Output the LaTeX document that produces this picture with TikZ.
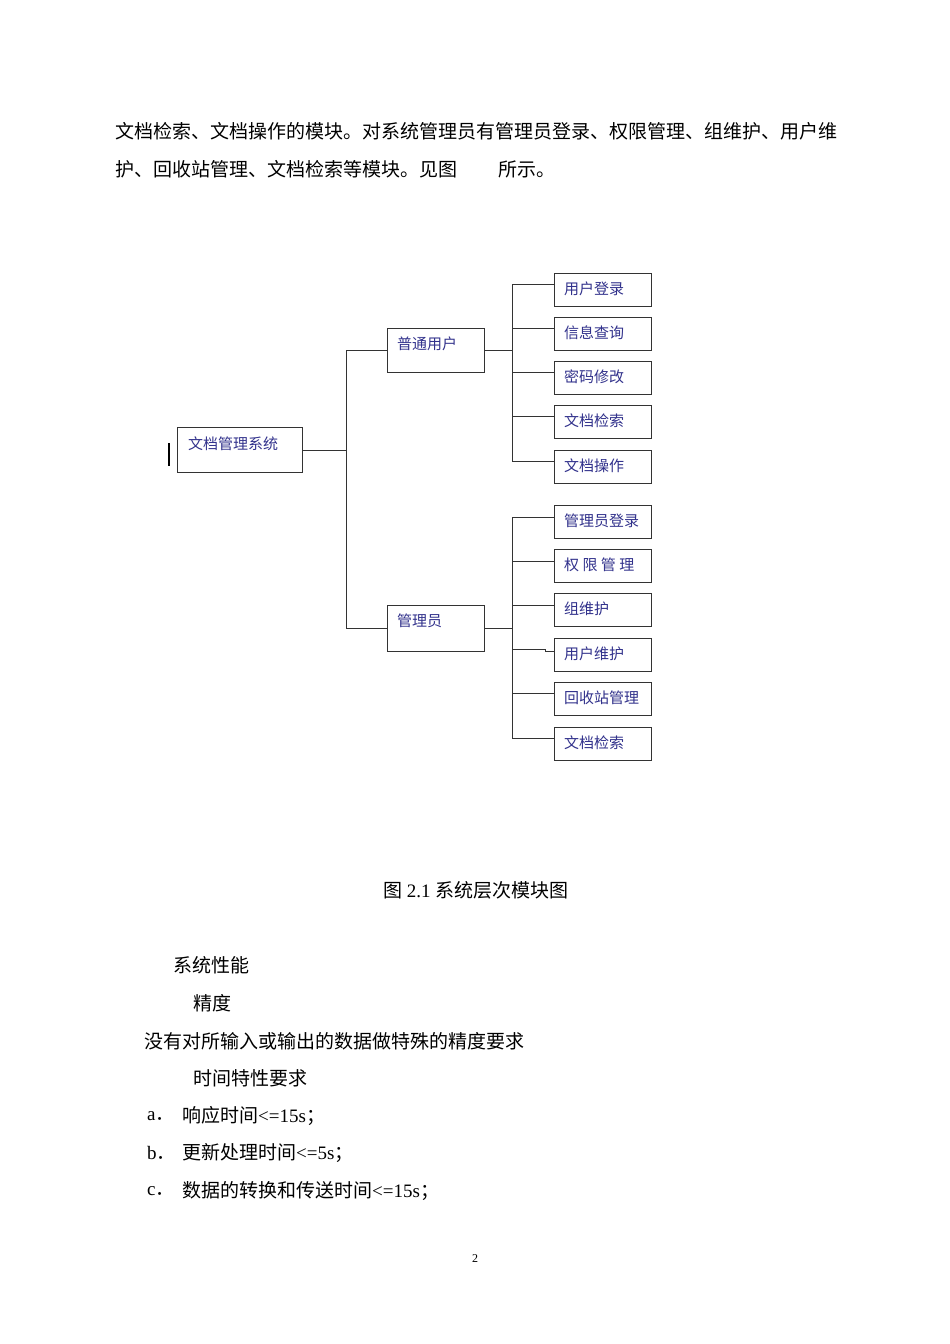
\documentclass[tikz,border=0pt]{standalone}
\usepackage{fontspec}
\setmainfont{Liberation Serif}
\newfontfamily\cjk{Noto Sans CJK SC}
\definecolor{dtxt}{RGB}{50,50,140}
\begin{document}
\begin{tikzpicture}[x=1pt,y=-1pt,
  box/.style={draw=black!80,line width=1pt,minimum height=#1,inner sep=0pt,anchor=north west},
  lab/.style={anchor=west,text=dtxt,font=\cjk\fontsize{15}{15}\selectfont,inner sep=0pt},
  body/.style={anchor=west,inner sep=0pt,font=\fontsize{19}{20}\selectfont},
  wire/.style={line width=1pt,black!80}]
\useasboundingbox[fill=white] (0,0) rectangle (950,1344);
% body text
\node[body] (l1) at (115,131) {\cjk 文档检索、文档操作的模块。对系统管理员有管理员登录、权限管理、组维护、用户维};
\node[body] (l2) at (115,169) {\cjk 护、回收站管理、文档检索等模块。见图};
\node[body] (l2b) at (498,169) {\cjk 所示。};
% root
\node[box=45pt,minimum width=125pt] (root) at (177,427) {};
\node[lab] (rootl) at (188,444) {文档管理系统};
\draw[line width=2pt] (169,443) -- (169,466);
\node[box=44pt,minimum width=97pt] (u) at (387,328) {};
\node[lab] (ul) at (397,344) {普通用户};
\node[box=46pt,minimum width=97pt] (m) at (387,605) {};
\node[lab] (ml) at (397,621) {管理员};
\coordinate (j1) at (346,350);
\coordinate (j2) at (346,628);
\draw[wire] (root.east |- 0,450) -- (346,450);
\draw[wire] (j1) -- (j2);
\draw[wire] (j1) -- (u.west |- j1);
\draw[wire] (j2) -- (m.west |- j2);
% user children
\foreach \n/\t/\y/\b in {a/用户登录/273/284, b/信息查询/317/328, c/密码修改/361/372, d/文档检索/405/416, e/文档操作/450/461}{
  \node[box=33pt,minimum width=97pt] (u\n) at (554,\y) {};
  \node[lab] (u\n l) at (564,\y+16) {\t};
  \draw[wire] (512,\b) -- (u\n.west |- 0,\b);
}
\draw[wire] (u.east |- 0,350) -- (512,350);
\draw[wire] (512,284) -- (512,461);
% admin children
\foreach \n/\t/\y/\b in {a/管理员登录/505/517, b/权\ 限\ 管\ 理/549/561, c/组维护/593/605, e/回收站管理/682/693, f/文档检索/727/738}{
  \node[box=33pt,minimum width=97pt] (m\n) at (554,\y) {};
  \node[lab] (m\n l) at (564,\y+16) {\t};
  \draw[wire] (512,\b) -- (m\n.west |- 0,\b);
}
\node[box=33pt,minimum width=97pt] (md) at (554,638) {};
\node[lab] (mdl) at (564,654) {用户维护};
\draw[wire] (512,649) -- (545,649) -- (545,651) -- (md.west |- 0,651);
\draw[wire] (m.east |- 0,628) -- (512,628);
\draw[wire] (512,517) -- (512,738);
% caption and following text
\node[body,anchor=center] (cap) at (476,890) {{\cjk 图 }2.1 {\cjk 系统层次模块图}};
\node[body] (p1) at (173,965) {\cjk 系统性能};
\node[body] (p2) at (193,1003) {\cjk 精度};
\node[body] (p3) at (144,1041) {\cjk 没有对所输入或输出的数据做特殊的精度要求};
\node[body] (p4) at (193,1078) {\cjk 时间特性要求};
\node[body] (a1) at (147,1116) {a{\cjk ．}};
\node[body] (a2) at (182,1116) {{\cjk 响应时间}<=15s{\cjk ；}};
\node[body] (b1) at (147,1153) {b{\cjk ．}};
\node[body] (b2) at (182,1153) {{\cjk 更新处理时间}<=5s{\cjk ；}};
\node[body] (c1) at (147,1191) {c{\cjk ．}};
\node[body] (c2) at (182,1191) {{\cjk 数据的转换和传送时间}<=15s{\cjk ；}};
\node[anchor=center,font=\fontsize{12}{14}\selectfont] (pg) at (475,1259) {2};
\end{tikzpicture}
\end{document}
